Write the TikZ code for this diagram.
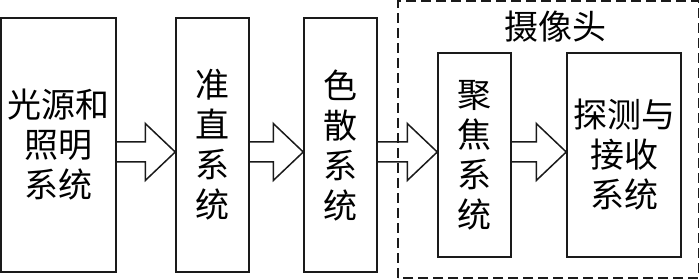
\documentclass[tikz,border=0pt]{standalone}
\usepackage{fontspec}
\usepackage{xcolor}
\usepackage{tikz}
\usetikzlibrary{calc,positioning}
\newfontfamily\cjk{Noto Sans CJK SC}
\definecolor{linec}{HTML}{1A1A1A}
\tikzset{
  box/.style={draw=linec,line width=1.5pt,align=center,inner sep=0pt,font=\cjk\fontsize{34}{40}\selectfont},
  har/.style={draw=linec,line width=1.5pt,line join=miter,to path={
    ($(\tikztostart)+(0,10)$) -- ($(\tikztotarget)+(-30,10)$) -- ($(\tikztotarget)+(-30,28.5)$)
    -- (\tikztotarget) -- ($(\tikztotarget)+(-30,-28.5)$) -- ($(\tikztotarget)+(-30,-10)$)
    -- ($(\tikztostart)+(0,-10)$)}},
  grp/.style={draw=linec,line width=1.5pt,dash pattern=on 10pt off 5pt}
}

\begin{document}
\begin{tikzpicture}[x=1pt,y=1pt]
\useasboundingbox (0,0) rectangle (700,280);
\draw[grp] (398,2) rectangle (698.5,279);
\node[font=\cjk\fontsize{34}{40}\selectfont] (cam) at (555,253) {摄像头};
\node[box,minimum width=115,minimum height=254] (src) at (58.5,135) {光源和\\照明\\系统};
\node[box,minimum width=73,minimum height=254] (col) at (212.5,135) {准\\直\\系\\统};
\node[box,minimum width=73,minimum height=254] (dsp) at (340.5,135) {色\\散\\系\\统};
\node[box,minimum width=73,minimum height=204] (foc) at (474.5,125) {聚\\焦\\系\\统};
\node[box,minimum width=114,minimum height=204] (det) at (624,125) {探测与\\接收\\系统};
\draw[har] (src.east |- 0,128) to (col.west |- 0,128);
\draw[har] (col.east |- 0,128) to (dsp.west |- 0,128);
\draw[har] (dsp.east |- 0,128) to (foc.west |- 0,128);
\draw[har] (foc.east |- 0,128) to (det.west |- 0,128);
\end{tikzpicture}
\end{document}
